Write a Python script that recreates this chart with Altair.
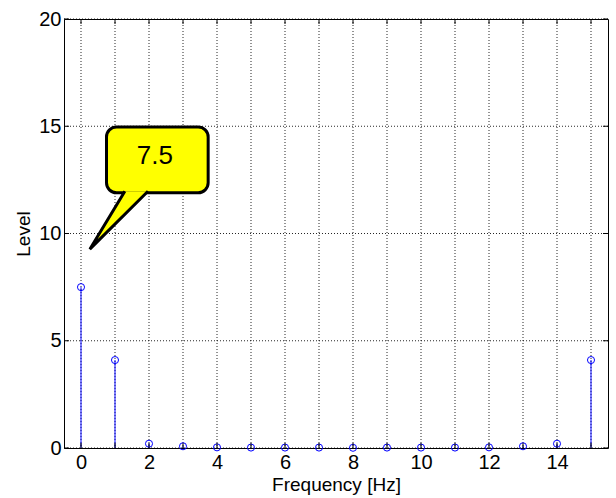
import altair as alt
import pandas as pd

# Spectrum values (stem plot)
freq = list(range(16))
level = [7.5, 4.1, 0.2, 0.08, 0.03, 0.02, 0.02, 0.02, 0.01, 0.02, 0.02, 0.02, 0.03, 0.08, 0.2, 4.1]

x_ticks = list(range(16))
x_labels = [0, 2, 4, 6, 8, 10, 12, 14]
y_ticks = [0, 5, 10, 15, 20]

# Callout annotation for the DC component (data units)
callout_text = "7.5"
box_x = [0.75, 3.74]
box_y = [11.9, 14.97]
tail_x = [1.29, 0.26, 1.97]
tail_y = [11.97, 9.27, 11.97]
text_x, text_y = 2.17, 13.6

W, H = 544, 429
FONT = "Liberation Sans"
BLUE = "#0000ff"
GRID = dict(color="black", strokeWidth=1, strokeDash=[1, 2], opacity=0.85)

xs = alt.Scale(domain=[-0.5, 15.5], nice=False, zero=False)
ys = alt.Scale(domain=[0, 20], nice=False, zero=False)

df = pd.DataFrame({"freq": freq, "level": level})

x_axis = alt.Axis(
    values=x_labels, grid=False, ticks=False, domain=False,
    labelFont=FONT, labelFontSize=20, labelColor="black", labelPadding=4,
    title="Frequency [Hz]", titleFont=FONT, titleFontSize=19,
    titleFontWeight="normal", titleColor="black", titlePadding=3,
)
y_axis = alt.Axis(
    values=y_ticks, grid=False, ticks=False, domain=False,
    labelFont=FONT, labelFontSize=20, labelColor="black", labelPadding=3,
    title="Level", titleFont=FONT, titleFontSize=19,
    titleFontWeight="normal", titleColor="black", titlePadding=5,
)

xt = pd.DataFrame({"t": x_ticks})
yt = pd.DataFrame({"t": y_ticks})

# Dotted grid at every integer frequency and every 5 level units
grid_x = alt.Chart(xt).mark_rule(**GRID).encode(
    x=alt.X("t:Q", scale=xs, axis=x_axis), y=alt.value(0), y2=alt.value(H))
grid_y = alt.Chart(yt).mark_rule(**GRID).encode(
    y=alt.Y("t:Q", scale=ys, axis=y_axis), x=alt.value(0), x2=alt.value(W))

stems = alt.Chart(df).mark_rule(color=BLUE, strokeWidth=1).encode(
    x=alt.X("freq:Q", scale=xs),
    y=alt.Y("level:Q", scale=ys),
    y2=alt.datum(0),
)

markers = alt.Chart(df).mark_point(
    shape="circle", size=50, color=BLUE, strokeWidth=1, filled=False, opacity=1
).encode(x=alt.X("freq:Q", scale=xs), y=alt.Y("level:Q", scale=ys))

# Inward tick marks on all four sides
tick_style = dict(color="black", strokeWidth=1)
ticks_bottom = alt.Chart(xt).mark_rule(**tick_style).encode(
    x=alt.X("t:Q", scale=xs), y=alt.value(H), y2=alt.value(H - 5))
ticks_top = alt.Chart(xt).mark_rule(**tick_style).encode(
    x=alt.X("t:Q", scale=xs), y=alt.value(0), y2=alt.value(5))
ticks_left = alt.Chart(yt).mark_rule(**tick_style).encode(
    y=alt.Y("t:Q", scale=ys), x=alt.value(0), x2=alt.value(5))
ticks_right = alt.Chart(yt).mark_rule(**tick_style).encode(
    y=alt.Y("t:Q", scale=ys), x=alt.value(W), x2=alt.value(W - 5))

# Speech-bubble callout
box_df = pd.DataFrame({"x1": [box_x[0]], "x2": [box_x[1]], "y1": [box_y[0]], "y2": [box_y[1]]})
box = alt.Chart(box_df).mark_rect(
    fill="#ffff00", stroke="black", strokeWidth=3, cornerRadius=10
).encode(
    x=alt.X("x1:Q", scale=xs), x2="x2:Q",
    y=alt.Y("y1:Q", scale=ys), y2="y2:Q",
)

tail_df = pd.DataFrame({"x": tail_x, "y": tail_y, "o": [0, 1, 2]})
tail = alt.Chart(tail_df).mark_line(
    fill="#ffff00", stroke="black", strokeWidth=3, strokeJoin="miter"
).encode(
    x=alt.X("x:Q", scale=xs), y=alt.Y("y:Q", scale=ys), order="o:Q")

label_df = pd.DataFrame({"x": [text_x], "y": [text_y], "t": [callout_text]})
label = alt.Chart(label_df).mark_text(
    font=FONT, fontSize=26, color="black", align="center", baseline="middle"
).encode(x=alt.X("x:Q", scale=xs), y=alt.Y("y:Q", scale=ys), text="t:N")

chart = alt.layer(
    grid_x, grid_y, stems, markers,
    ticks_bottom, ticks_top, ticks_left, ticks_right, box, tail, label
).properties(
    width=W, height=H,
    autosize=alt.AutoSizeParams(type="none"),
    padding={"left": 64, "top": 19, "right": 8, "bottom": 50},
    background="white",
).configure_view(stroke="black", strokeWidth=1)

chart.save("out.html", embed_options={"renderer": "svg", "actions": False})
